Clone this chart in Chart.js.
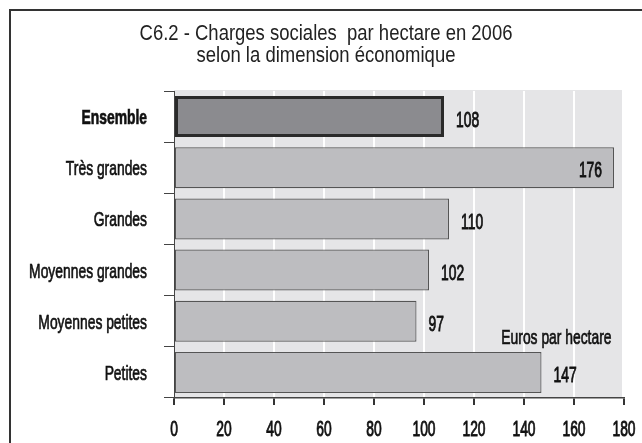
<!DOCTYPE html>
<html>
<head>
<meta charset="utf-8">
<script src="https://cdn.jsdelivr.net/npm/chart.js@4.4.1/dist/chart.umd.min.js"></script>
<style>
  html, body { margin: 0; padding: 0; background: #fff; }
  #wrap { width: 642px; height: 443px; position: relative; }
</style>
</head>
<body>
<div id="wrap"><canvas id="chargesChart"></canvas></div>
<script>
// categories, top to bottom
const categories = ['Ensemble', 'Très grandes', 'Grandes', 'Moyennes grandes', 'Moyennes petites', 'Petites'];
// euros par hectare
const chargesValues = [108, 176, 110, 102, 97, 147];
const xTicks = [0, 20, 40, 60, 80, 100, 120, 140, 160, 180];
const titleLines = ['C6.2 - Charges sociales  par hectare en 2006', 'selon la dimension économique'];
const unitLabel = 'Euros par hectare';

const fontFam = '"Liberation Sans", Arial, sans-serif';

// The original uses a very condensed face; no such font here, so squeeze the text horizontally
// (heavy = a thin outline on top to thicken the strokes a bit)
function squeezeText(ctx, text, x, y, align, font, sx, heavy) {
    ctx.save();
    ctx.translate(x, y);
    ctx.scale(sx, 1);
    ctx.font = font;
    ctx.textAlign = align;
    ctx.textBaseline = 'alphabetic';
    ctx.fillText(text, 0, 0);
    if (heavy) {
        ctx.strokeStyle = ctx.fillStyle;
        ctx.lineWidth = heavy;
        ctx.strokeText(text, 0, 0);
    }
    ctx.restore();
}

// grey plot background + the frame round the figure
const backgroundPlugin = {
    id: 'backgroundPlugin',
    beforeDraw(chart) {
        const { ctx, chartArea } = chart;
        ctx.save();
        ctx.fillStyle = '#e5e5e7';
        ctx.fillRect(chartArea.left, chartArea.top - 1, chartArea.right - chartArea.left - 2, chartArea.bottom - chartArea.top + 1);
        ctx.strokeStyle = '#333';
        ctx.lineWidth = 2;
        ctx.beginPath();
        ctx.moveTo(10, 443);
        ctx.lineTo(10, 10);
        ctx.lineTo(642, 10);
        ctx.stroke();
        ctx.restore();
    }
};

// title, tick labels, value labels and the unit note
const textPlugin = {
    id: 'textPlugin',
    afterDraw(chart) {
        const { ctx, chartArea } = chart;
        const xScale = chart.scales.x;
        const yScale = chart.scales.y;
        ctx.save();
        ctx.fillStyle = '#222';

        // title
        const midX = 326;
        squeezeText(ctx, titleLines[0], midX, 40, 'center', '22px ' + fontFam, 0.84, 0);
        squeezeText(ctx, titleLines[1], midX, 62, 'center', '22px ' + fontFam, 0.84, 0);

        ctx.fillStyle = '#111';
        // category labels
        categories.forEach((c, i) => {
            const y = yScale.getPixelForValue(i);
            const f = (i === 0 ? 'bold ' : '') + '21px ' + fontFam;
            squeezeText(ctx, c, chartArea.left - 27, y + 7.5, 'right', f, 0.66, 0.7);
        });

        // x tick labels
        xTicks.forEach(v => {
            squeezeText(ctx, String(v), xScale.getPixelForValue(v), 436, 'center', '22px ' + fontFam, 0.63, 0.9);
        });

        // values next to the bars
        const meta = chart.getDatasetMeta(0);
        meta.data.forEach((bar, i) => {
            const v = chargesValues[i];
            // the longest bar keeps its label inside
            if (v > 170) {
                squeezeText(ctx, String(v), bar.x - 12, bar.y + 9, 'right', '22px ' + fontFam, 0.63, 0.9);
            } else {
                squeezeText(ctx, String(v), bar.x + 12, bar.y + 10, 'left', '22px ' + fontFam, 0.63, 0.9);
            }
        });

        squeezeText(ctx, unitLabel, xScale.getPixelForValue(175), yScale.getPixelForValue(4) + 23, 'right', '21px ' + fontFam, 0.66, 0.7);
        ctx.restore();
    }
};

const ctx = document.getElementById('chargesChart');

new Chart(ctx, {
    type: 'bar',
    data: {
        labels: categories,
        datasets: [{
            data: chargesValues,
            backgroundColor: categories.map((c, i) => i === 0 ? '#8b8b8f' : '#bdbdc0'),
            borderColor: categories.map((c, i) => i === 0 ? '#2a2a2a' : '#555'),
            borderWidth: categories.map((c, i) => i === 0 ? 3 : 1.2),
            borderSkipped: false,
            categoryPercentage: 0.8,
            barPercentage: 1.0
        }]
    },
    options: {
        indexAxis: 'y',
        responsive: true,
        maintainAspectRatio: false,
        animation: false,
        layout: {
            padding: { left: 0, right: 18, top: 91, bottom: 0 }
        },
        plugins: {
            legend: { display: false },
            tooltip: { enabled: false },
            title: { display: false }
        },
        scales: {
            x: {
                min: 0,
                max: 180,
                afterFit: s => { s.height = 45; },
                afterBuildTicks: s => { s.ticks = xTicks.map(v => ({ value: v })); },
                grid: {
                    color: '#ffffff',
                    lineWidth: 2,
                    tickColor: '#333',
                    tickLength: 7,
                    drawOnChartArea: true
                },
                border: { display: true, color: '#444', width: 1.5 },
                ticks: { display: false }
            },
            y: {
                afterFit: s => { s.width = 174; },
                grid: {
                    offset: true,
                    drawOnChartArea: false,
                    color: '#444',
                    tickLength: 10
                },
                border: { display: true, color: '#444', width: 1 },
                ticks: { display: false }
            }
        }
    },
    plugins: [backgroundPlugin, textPlugin]
});
</script>
</body>
</html>
